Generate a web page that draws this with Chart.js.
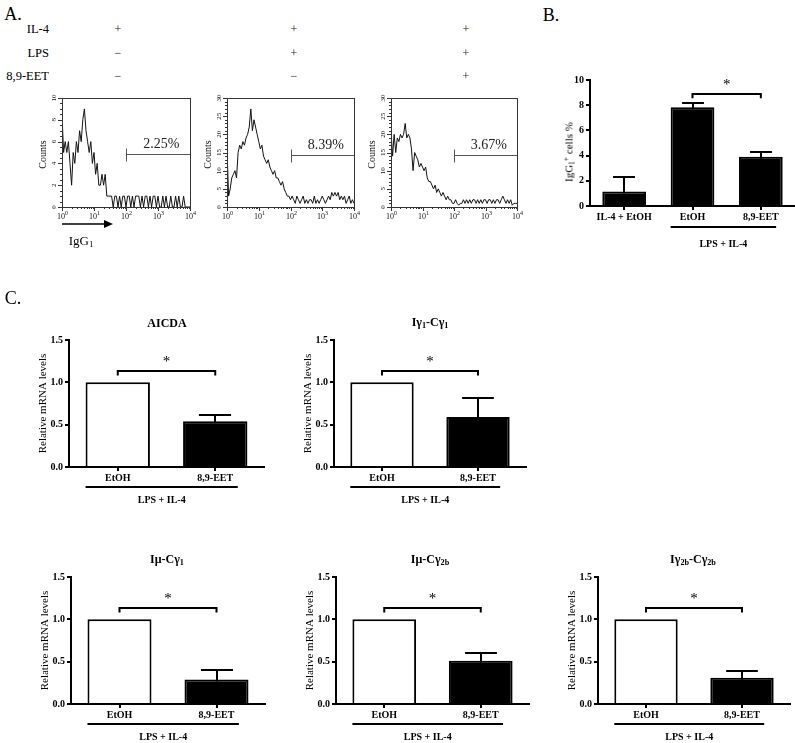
<!DOCTYPE html>
<html><head><meta charset="utf-8">
<script src="https://cdn.jsdelivr.net/npm/chart.js@4.4.0/dist/chart.umd.min.js"></script>
<style>
html,body{margin:0;padding:0;background:#fff;}
body{width:795px;height:743px;position:relative;overflow:hidden;font-family:"Liberation Serif","Times New Roman",serif;color:#000;}
.c{position:absolute;}
.t{position:absolute;white-space:nowrap;line-height:1;color:#000;}
.ctr{transform:translate(-50%,-50%);}
.rt{transform:translate(-100%,-50%);}
.rot{transform:translate(-50%,-50%) rotate(-90deg);}
sub{font-size:0.68em;vertical-align:-0.3em;line-height:0;}
sup{font-size:0.68em;vertical-align:0.55em;line-height:0;}
</style></head>
<body>
<canvas id="h1" class="c"></canvas>
<canvas id="h2" class="c"></canvas>
<canvas id="h3" class="c"></canvas>
<canvas id="bB" class="c"></canvas>
<canvas id="c1" class="c"></canvas>
<canvas id="c2" class="c"></canvas>
<canvas id="c3" class="c"></canvas>
<canvas id="c4" class="c"></canvas>
<canvas id="c5" class="c"></canvas>
<svg class="c" style="left:58px;top:217px" width="60" height="14"><line x1="4" y1="7" x2="48" y2="7" stroke="#000" stroke-width="1.3"/><polygon points="46,3 55,7 46,11" fill="#000"/></svg>
<div class="t ctr" style="left:13px;top:14px;font-size:18px">A.</div>
<div class="t ctr" style="left:551px;top:15px;font-size:18px">B.</div>
<div class="t ctr" style="left:13px;top:298px;font-size:18px">C.</div>
<div class="t ctr" style="left:81px;top:240px;font-size:13px">IgG<sub>1</sub></div>
<div class="t rot" style="left:569px;top:152px;font-size:11px">IgG<sub>1</sub><sup>+</sup> cells %</div>
<div class="t ctr" style="left:167px;top:323px;font-size:12px;font-weight:bold">AICDA</div>
<div class="t ctr" style="left:430px;top:322px;font-size:12px;font-weight:bold">Iγ<sub>1</sub>-Cγ<sub>1</sub></div>
<div class="t ctr" style="left:167px;top:559px;font-size:12px;font-weight:bold">Iμ-Cγ<sub>1</sub></div>
<div class="t ctr" style="left:430px;top:559px;font-size:12px;font-weight:bold">Iμ-Cγ<sub>2b</sub></div>
<div class="t ctr" style="left:693px;top:559px;font-size:12px;font-weight:bold">Iγ<sub>2b</sub>-Cγ<sub>2b</sub></div>
<div id="hdr"></div>
<script>
// ---------------- DATA ----------------
const conditions = ['IL-4', 'LPS', '8,9-EET'];
const condSigns = [['+', '+', '+'], ['−', '+', '+'], ['−', '−', '+']];

// flow histograms: counts per log bin (20 bins per decade, 10^0 .. 10^4)
const histBins = Array.from({length: 81}, (_, i) => i);
const histIL4 = [8.5,5,6,5,6, 4,2,5,4,6, 5,7,6,8,9, 7,6,5,6,4, 5,3,4,2,2, 3,2,3,1,1,
  1,1,0,1,1, 0,1,0,1,1, 0,1,1,0,1, 0,1,1,1,0, 1,0,1,1,0, 1,0,1,1,0, 1,0,0,1,0, 1,0,0,1,0, 0,1,0,1,0, 0,1,0,0,0, 0];
const histLPS = [16,3,5,8,9, 10,8,15,17,16, 18,17,19,20,22, 27,21,24,22,20, 18,16,17,14,13, 12,13,11,10,9,
  10,8,8,7,6, 7,5,4,3,3, 2,3,2,1,3, 2,1,2,3,1, 2,1,2,2,1, 3,1,2,1,2, 3,2,1,2,3, 2,4,3,4,3, 4,2,3,2,3, 1,2,3,1,2, 1];
const histEET = [21,14,20,15,19, 18,20,19,20,23, 19,20,19,16,10, 15,14,13,11,12, 11,10,11,8,7, 7,6,5,6,4,
  5,4,3,4,3, 2,3,2,2,1, 1,2,1,0.5,1, 1,2,1,2,1, 2,1,2,2,1, 2,1,2,1,2, 2,1,2,2,1, 2,1,2,2,1, 2,3,2,1,2, 1,2,0.5,1,1, 1];
const histYMax = [10, 30, 30];
const histYStep = [2, 5, 5];
const gatePct = ['2.25%', '8.39%', '3.67%'];
const gateLevel = [4.9, 14.3, 14.3];
const decadeExp = ['0', '1', '2', '3', '4'];

// panel B
const bCategories = ['IL-4 + EtOH', 'EtOH', '8,9-EET'];
const bMeans = [1.15, 7.83, 3.91];
const bErrors = [1.13, 0.32, 0.35];

// panel C
const cCategories = ['EtOH', '8,9-EET'];
const aicdaMeans = [1.0, 0.54],  aicdaErr = [0, 0.08];
const ig1Means   = [1.0, 0.59],  ig1Err   = [0, 0.22];
const imuG1Means = [1.0, 0.29],  imuG1Err = [0, 0.11];
const imuG2bMeans= [1.0, 0.51],  imuG2bErr= [0, 0.09];
const ig2bMeans  = [1.0, 0.31],  ig2bErr  = [0, 0.08];
const groupLabel = 'LPS + IL-4';

// ---------------- HEADER ----------------
const symX = [118, 294, 466], rowY = [29, 53, 76];
let h = '';
conditions.forEach((c, r) => {
  h += `<div class="t rt" style="left:49px;top:${rowY[r]}px;font-size:12.5px">${c}</div>`;
  condSigns[r].forEach((s, k) => {
    h += `<div class="t ctr" style="left:${symX[k]}px;top:${rowY[r]}px;font-size:12px;color:#222">${s}</div>`;
  });
});
document.getElementById('hdr').innerHTML = h;

// ---------------- HELPERS ----------------
const FONT = '"Liberation Serif","Times New Roman",serif';
Chart.defaults.font.family = FONT;
Chart.defaults.color = '#000';

function place(cv, p, M) {
  cv.width = p.r - p.l + M.l + M.r;
  cv.height = p.b - p.t + M.t + M.b;
  cv.style.left = (p.l - M.l) + 'px';
  cv.style.top = (p.t - M.t) + 'px';
}
function ln(ctx, x1, y1, x2, y2) { ctx.beginPath(); ctx.moveTo(x1, y1); ctx.lineTo(x2, y2); ctx.stroke(); }

const histAxes = {
  id: 'histAxes',
  afterDraw(chart, args, o) {
    const {ctx, chartArea: a, scales: {x, y}} = chart;
    ctx.save();
    ctx.strokeStyle = '#333'; ctx.lineWidth = 1; ctx.fillStyle = '#111';
    ctx.strokeRect(Math.round(a.left) + 0.5, Math.round(a.top) + 0.5, Math.round(a.width), Math.round(a.height));
    const nMinor = Math.round(o.ymax / o.minor);
    for (let k = 0; k <= nMinor; k++) {
      const v = k * o.minor, py = Math.round(y.getPixelForValue(v)) + 0.5;
      const major = Math.abs(v / o.step - Math.round(v / o.step)) < 1e-6;
      ln(ctx, a.left - (major ? 4 : 2), py, a.left, py);
    }
    ctx.font = '7px ' + FONT; ctx.textAlign = 'center'; ctx.textBaseline = 'middle';
    for (let v = 0; v <= o.ymax + 1e-9; v += o.step) {
      ctx.save(); ctx.translate(a.left - 8, y.getPixelForValue(v)); ctx.rotate(-Math.PI / 2);
      ctx.fillText(String(v), 0, 0); ctx.restore();
    }
    decadeExp.forEach((e, d) => {
      const px = Math.round(x.getPixelForValue(d * 20)) + 0.5;
      ln(ctx, px, a.bottom, px, a.bottom + 4);
      if (d < decadeExp.length - 1) {
        for (let m = 2; m <= 9; m++) {
          const q = Math.round(x.getPixelForValue((d + Math.log10(m)) * 20)) + 0.5;
          ln(ctx, q, a.bottom, q, a.bottom + 2);
        }
      }
      ctx.font = '8px ' + FONT; const w1 = ctx.measureText('10').width;
      ctx.font = '6px ' + FONT; const w2 = ctx.measureText(e).width;
      const x0 = px - (w1 + w2) / 2;
      ctx.textAlign = 'left'; ctx.textBaseline = 'alphabetic';
      ctx.font = '8px ' + FONT; ctx.fillText('10', x0, a.bottom + 12);
      ctx.font = '6px ' + FONT; ctx.fillText(e, x0 + w1, a.bottom + 8);
    });
    ctx.save(); ctx.translate(a.left - 19, (a.top + a.bottom) / 2 + 2); ctx.rotate(-Math.PI / 2);
    ctx.font = '10px ' + FONT; ctx.textAlign = 'center'; ctx.textBaseline = 'middle';
    ctx.fillText('Counts', 0, 0); ctx.restore();
    const gx = Math.round(x.getPixelForValue(o.gateBin)) + 0.5, gy = Math.round(y.getPixelForValue(o.gateLevel)) + 0.5;
    ctx.strokeStyle = '#555';
    ln(ctx, gx, gy - 6, gx, gy + 7);
    ln(ctx, gx, gy, a.right, gy);
    ctx.font = '14px ' + FONT; ctx.textAlign = 'center'; ctx.textBaseline = 'alphabetic'; ctx.fillStyle = '#222';
    ctx.fillText(o.pct, (gx + a.right) / 2 + 3, gy - 7);
    ctx.restore();
  }
};

function makeHist(id, plot, values, k) {
  const M = {l: 30, t: 6, r: 10, b: 20};
  const cv = document.getElementById(id);
  place(cv, plot, M);
  new Chart(cv, {
    type: 'line',
    data: {labels: histBins, datasets: [{data: values, borderColor: '#111', borderWidth: 1, pointRadius: 0, tension: 0, fill: false}]},
    options: {
      responsive: false, animation: false, events: [], devicePixelRatio: 1,
      layout: {padding: {left: M.l, top: M.t, right: M.r, bottom: M.b}},
      plugins: {legend: {display: false}, tooltip: {enabled: false},
        histAxes: {ymax: histYMax[k], step: histYStep[k], minor: histYStep[k] / (k === 0 ? 4 : 5), gateBin: 40, gateLevel: gateLevel[k], pct: gatePct[k]}},
      scales: {x: {type: 'linear', min: 0, max: 80, display: false}, y: {min: 0, max: histYMax[k], display: false}}
    },
    plugins: [histAxes]
  });
}

const prism = {
  id: 'prism',
  afterDatasetsDraw(chart, args, o) {
    const {ctx, scales: {x, y}} = chart;
    const meta = chart.getDatasetMeta(0);
    const vals = chart.data.datasets[0].data;
    ctx.save();
    ctx.strokeStyle = '#000'; ctx.fillStyle = '#000'; ctx.lineWidth = 2;
    o.errors.forEach((e, i) => {
      if (!e) return;
      const b = meta.data[i], cx = Math.round(b.x);
      const top = y.getPixelForValue(vals[i]), cap = Math.round(y.getPixelForValue(vals[i] + e));
      ln(ctx, cx, top + 2, cx, cap);
      ln(ctx, cx - b.width / 4, cap, cx + b.width / 4, cap);
    });
    const br = o.bracket;
    const xa = meta.data[br.a].x, xb = meta.data[br.b].x;
    const yb = Math.round(y.getPixelForValue(br.y)), yt = y.getPixelForValue(br.y - br.drop);
    ctx.beginPath(); ctx.moveTo(xa, yt); ctx.lineTo(xa, yb); ctx.lineTo(xb, yb); ctx.lineTo(xb, yt); ctx.stroke();
    ctx.font = '15px ' + FONT; ctx.textAlign = 'center'; ctx.textBaseline = 'middle';
    ctx.fillText('*', (xa + xb) / 2, yb - 9);
    const g = o.group, w = meta.data[g.a].width;
    const ga = meta.data[g.a].x - 0.5 * w, gb = meta.data[g.b].x + 0.35 * w;
    const gy = chart.chartArea.bottom + g.offset;
    ln(ctx, ga, gy, gb, gy);
    ctx.font = 'bold 10px ' + FONT;
    ctx.fillText(groupLabel, (ga + gb) / 2, gy + g.label);
    ctx.restore();
  }
};

function makeBar(id, plot, M, cats, means, errs, colors, opt) {
  const cv = document.getElementById(id);
  place(cv, plot, M);
  const axisGrid = {display: true, drawOnChartArea: false, tickLength: 4, color: '#000', lineWidth: 2};
  new Chart(cv, {
    type: 'bar',
    data: {labels: cats, datasets: [{data: means, backgroundColor: colors, borderColor: '#000', borderWidth: 2,
      borderSkipped: 'start', barPercentage: opt.barPct, categoryPercentage: 1}]},
    options: {
      responsive: false, animation: false, events: [], devicePixelRatio: 1,
      layout: {padding: {left: 0, top: M.t, right: M.r, bottom: 0}},
      plugins: {legend: {display: false}, tooltip: {enabled: false},
        prism: {errors: errs, bracket: opt.bracket, group: opt.group}},
      scales: {
        x: {ticks: {font: {size: 10, weight: 'bold'}, color: '#000', padding: 1, autoSkip: false, maxRotation: 0},
            grid: Object.assign({offset: false}, axisGrid), border: {display: true, color: '#000', width: 2},
            afterFit: s => { s.height = M.b; }},
        y: {min: 0, max: opt.ymax,
            ticks: {stepSize: opt.step, callback: opt.fmt, font: {size: 10, weight: 'bold'}, color: '#000', padding: 2},
            grid: axisGrid, border: {display: true, color: '#000', width: 2},
            title: {display: !!opt.ytitle, text: opt.ytitle || '', font: {size: 11}, color: '#000', padding: 0},
            afterFit: s => { s.width = M.l; }}
      }
    },
    plugins: [prism]
  });
}

// ---------------- CHARTS ----------------
const hy = {t: 98, b: 207};
makeHist('h1', {l: 62, r: 190, t: hy.t, b: hy.b}, histIL4, 0);
makeHist('h2', {l: 227, r: 354, t: hy.t, b: hy.b}, histLPS, 1);
makeHist('h3', {l: 391, r: 517, t: hy.t, b: hy.b}, histEET, 2);

makeBar('bB', {l: 590, t: 80, r: 795, b: 206}, {l: 26, t: 10, r: 0, b: 50}, bCategories, bMeans, bErrors,
  ['#000', '#000', '#000'],
  {barPct: 0.64, ymax: 10, step: 2, fmt: v => String(v), bracket: {a: 1, b: 2, y: 8.9, drop: 0.35},
   group: {a: 1, b: 2, offset: 21, label: 17}});

const cM = {l: 32, t: 10, r: 4, b: 44};
const cOpt = (extra) => Object.assign({barPct: 0.66, ymax: 1.5, step: 0.5, fmt: v => v.toFixed(1),
  ytitle: 'Relative mRNA levels', bracket: {a: 0, b: 1, y: 1.13, drop: 0.05}, group: {a: 0, b: 1, offset: 20, label: 13}}, extra || {});
const cColors = ['#fff', '#000'];
makeBar('c1', {l: 69, t: 340, r: 264, b: 467}, cM, cCategories, aicdaMeans, aicdaErr, cColors, cOpt());
makeBar('c2', {l: 334, t: 340, r: 526, b: 467}, cM, cCategories, ig1Means, ig1Err, cColors, cOpt());
makeBar('c3', {l: 71, t: 577, r: 265, b: 704}, cM, cCategories, imuG1Means, imuG1Err, cColors, cOpt());
makeBar('c4', {l: 336, t: 577, r: 529, b: 704}, cM, cCategories, imuG2bMeans, imuG2bErr, cColors, cOpt());
makeBar('c5', {l: 598, t: 577, r: 790, b: 704}, cM, cCategories, ig2bMeans, ig2bErr, cColors, cOpt());
</script>
</body></html>
